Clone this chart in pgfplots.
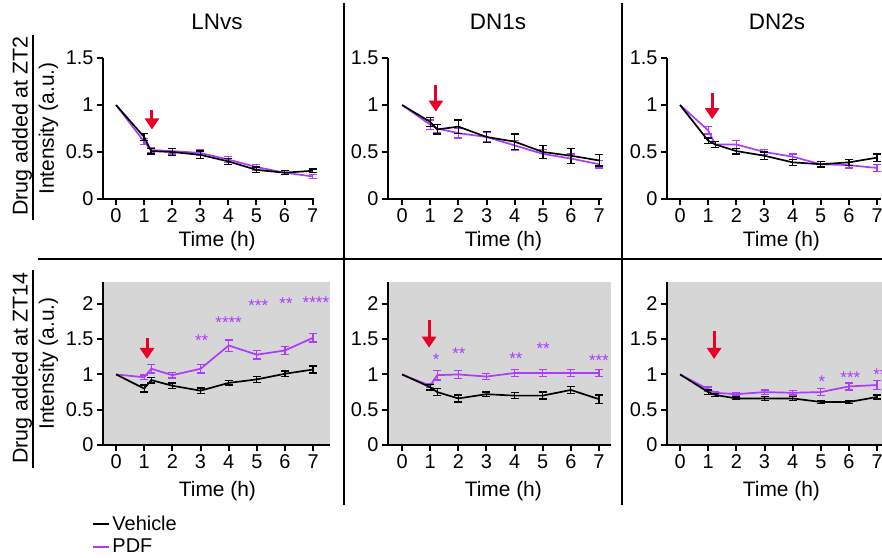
\documentclass[border=0pt]{standalone}
\usepackage{pgfplots}
\pgfplotsset{compat=1.18}
\usepackage{fontspec}
\setmainfont{Liberation Sans}
\usetikzlibrary{arrows.meta,calc}
\definecolor{pdfc}{RGB}{172,58,255}
\definecolor{arrc}{RGB}{232,0,40}
\definecolor{bgc}{RGB}{214,214,214}
\newcommand{\fs}[1]{\fontsize{#1}{#1}\selectfont}
\tikzset{
  arr/.style={arrc, line width=3bp, -{Triangle[width=14bp,length=11bp]}},
  star/.style={pdfc, font=\fs{17}},
}
\pgfplotsset{
  panel/.style={
    scale only axis, anchor=south west, axis lines=left,
    axis line style={-, line width=2.2bp},
    tick align=outside, major tick length=6bp,
    tick style={line width=2bp, black},
    xtick={0,1,...,7}, ymin=0, clip=false,
    tick label style={font=\fs{20}},
    /pgf/number format/assume math mode=true,
    xlabel={Time (h)},
    xlabel style={font=\fs{21}, at={(axis cs:3.6,0)}, anchor=center},
  },
  firstcol/.style={
    ylabel={Intensity (a.u.)},
    ylabel style={font=\fs{21}, at={($(axis description cs:0,0.5)+(-54.5bp,0)$)}, anchor=center},
  },
  toprow/.style={panel, ymax=1.5, ytick={0,0.5,1,1.5}, height=141bp,
    xlabel style={yshift=-42bp}},
  botrow/.style={panel, ymax=2.31, ytick={0,0.5,1,1.5,2}, height=163bp,
    axis background/.style={fill=bgc}, xlabel style={yshift=-46bp}},
  veh/.style={black, line width=1.7bp, mark=none,
    error bars/y dir=both, error bars/y explicit, error bars/error mark=|,
    error bars/error bar style={line width=1.3bp},
    error bars/error mark options={line width=1.3bp, mark size=4bp}},
  pdf/.style={pdfc, line width=1.7bp, mark=none,
    error bars/y dir=both, error bars/y explicit, error bars/error mark=|,
    error bars/error bar style={line width=1.3bp},
    error bars/error mark options={line width=1.3bp, mark size=4bp}},
}
\begin{document}
\begin{tikzpicture}
\useasboundingbox (0,0) rectangle (882bp,-558bp);

% ---------------- top row ----------------
\begin{axis}[toprow, firstcol, at={(103bp,-199bp)}, xmin=-0.464, xmax=7.05, width=211bp]
\addplot[pdf] coordinates {(0,1) +- (0,nan) (1,0.61) +- (0,0.03) (1.25,0.52) +- (0,0.03) (2,0.51) +- (0,0.03) (3,0.49) +- (0,0.03) (4,0.42) +- (0,0.03) (5,0.34) +- (0,0.03) (6,0.28) +- (0,0.02) (7,0.24) +- (0,0.02)};
\addplot[veh] coordinates {(0,1) +- (0,nan) (1,0.66) +- (0,0.04) (1.25,0.51) +- (0,0.03) (2,0.50) +- (0,0.04) (3,0.47) +- (0,0.04) (4,0.40) +- (0,0.03) (5,0.31) +- (0,0.03) (6,0.28) +- (0,0.02) (7,0.30) +- (0,0.02)};
\draw[arr] (axis cs:1.28,0.95) -- (axis cs:1.28,0.74);
\end{axis}

\begin{axis}[toprow, at={(388bp,-199bp)}, xmin=-0.5, xmax=7.1, width=214bp]
\addplot[pdf] coordinates {(0,1) +- (0,nan) (1,0.79) +- (0,0.05) (1.25,0.75) +- (0,0.04) (2,0.70) +- (0,0.05) (3,0.66) +- (0,0.05) (4,0.57) +- (0,0.05) (5,0.48) +- (0,0.05) (6,0.43) +- (0,0.05) (7,0.37) +- (0,0.04)};
\addplot[veh] coordinates {(0,1) +- (0,nan) (1,0.82) +- (0,0.05) (1.25,0.74) +- (0,0.05) (2,0.77) +- (0,0.07) (3,0.66) +- (0,0.06) (4,0.61) +- (0,0.08) (5,0.50) +- (0,0.07) (6,0.46) +- (0,0.08) (7,0.41) +- (0,0.06)};
\draw[arr] (axis cs:1.2,1.21) -- (axis cs:1.2,0.93);
\end{axis}

\begin{axis}[toprow, at={(667bp,-199bp)}, xmin=-0.464, xmax=7.14, width=214bp]
\addplot[pdf] coordinates {(0,1) +- (0,nan) (1,0.73) +- (0,0.04) (1.25,0.58) +- (0,0.03) (2,0.58) +- (0,0.04) (3,0.50) +- (0,0.03) (4,0.45) +- (0,0.03) (5,0.37) +- (0,0.03) (6,0.36) +- (0,0.03) (7,0.33) +- (0,0.04)};
\addplot[veh] coordinates {(0,1) +- (0,nan) (1,0.62) +- (0,0.03) (1.25,0.58) +- (0,0.03) (2,0.51) +- (0,0.03) (3,0.46) +- (0,0.04) (4,0.39) +- (0,0.03) (5,0.37) +- (0,0.03) (6,0.39) +- (0,0.03) (7,0.44) +- (0,0.04)};
\draw[arr] (axis cs:1.14,1.13) -- (axis cs:1.14,0.85);
\end{axis}

% ---------------- bottom row ----------------
\begin{axis}[botrow, firstcol, at={(103bp,-445bp)}, xmin=-0.464, xmax=7.6, width=227bp,
  legend style={at={(-0.048,-0.423)}, anchor=north west, draw=none, fill=none,
    font=\fs{20}, inner sep=0pt, row sep=3bp},
  legend cell align=left,
  legend image code/.code={\draw[#1] (0bp,0bp) -- (16bp,0bp);}]
\addlegendimage{black, line width=2.2bp}\addlegendentry{Vehicle}
\addlegendimage{pdfc, line width=2.2bp}\addlegendentry{PDF}
\addplot[pdf, forget plot] coordinates {(0,1) +- (0,nan) (1,0.96) +- (0,0.03) (1.25,1.08) +- (0,0.06) (2,0.99) +- (0,0.04) (3,1.08) +- (0,0.06) (4,1.41) +- (0,0.08) (5,1.28) +- (0,0.06) (6,1.34) +- (0,0.06) (7,1.52) +- (0,0.06)};
\addplot[veh, forget plot] coordinates {(0,1) +- (0,nan) (1,0.80) +- (0,0.05) (1.25,0.92) +- (0,0.04) (2,0.84) +- (0,0.04) (3,0.77) +- (0,0.04) (4,0.88) +- (0,0.03) (5,0.93) +- (0,0.04) (6,1.01) +- (0,0.04) (7,1.07) +- (0,0.05)};
\draw[arr] (axis cs:1.1,1.52) -- (axis cs:1.1,1.22);
\node[star] at (axis cs:3.04,1.48) {**};
\node[star] at (axis cs:4.0,1.73) {****};
\node[star] at (axis cs:5.05,1.98) {***};
\node[star] at (axis cs:6.04,2.01) {**};
\node[star] at (axis cs:7.1,2.02) {****};
\end{axis}

\begin{axis}[botrow, at={(388bp,-445bp)}, xmin=-0.5, xmax=7.43, width=223bp]
\addplot[pdf] coordinates {(0,1) +- (0,nan) (1,0.84) +- (0,0.03) (1.25,0.99) +- (0,0.07) (2,1.0) +- (0,0.06) (3,0.97) +- (0,0.04) (4,1.02) +- (0,0.05) (5,1.02) +- (0,0.05) (6,1.02) +- (0,0.05) (7,1.02) +- (0,0.05)};
\addplot[veh] coordinates {(0,1) +- (0,nan) (1,0.82) +- (0,0.04) (1.25,0.75) +- (0,0.05) (2,0.66) +- (0,0.05) (3,0.72) +- (0,0.03) (4,0.70) +- (0,0.04) (5,0.70) +- (0,0.05) (6,0.78) +- (0,0.05) (7,0.65) +- (0,0.06)};
\draw[arr] (axis cs:0.96,1.77) -- (axis cs:0.96,1.38);
\node[star] at (axis cs:1.21,1.21) {*};
\node[star] at (axis cs:2.02,1.29) {**};
\node[star] at (axis cs:4.05,1.22) {**};
\node[star] at (axis cs:5.02,1.37) {**};
\node[star] at (axis cs:7.0,1.20) {***};
\end{axis}

\begin{axis}[botrow, at={(667bp,-445bp)}, xmin=-0.464, xmax=7.6, width=227bp]
\addplot[pdf] coordinates {(0,1) +- (0,nan) (1,0.79) +- (0,0.03) (1.25,0.74) +- (0,0.02) (2,0.72) +- (0,0.02) (3,0.75) +- (0,0.03) (4,0.74) +- (0,0.03) (5,0.75) +- (0,0.05) (6,0.83) +- (0,0.05) (7,0.85) +- (0,0.06)};
\addplot[veh] coordinates {(0,1) +- (0,nan) (1,0.75) +- (0,0.03) (1.25,0.71) +- (0,0.02) (2,0.66) +- (0,0.02) (3,0.66) +- (0,0.03) (4,0.66) +- (0,0.03) (5,0.61) +- (0,0.02) (6,0.61) +- (0,0.02) (7,0.68) +- (0,0.03)};
\draw[arr] (axis cs:1.21,1.62) -- (axis cs:1.21,1.22);
\node[star] at (axis cs:5.04,0.90) {*};
\node[star] at (axis cs:6.05,0.95) {***};
\node[star] at (axis cs:7.1,1.00) {**};
\end{axis}

% ---------------- titles, row labels, separators ----------------
\node[font=\fs{22.5}] at (217bp,-21.5bp) {LNvs};
\node[font=\fs{22.5}] at (498bp,-21.5bp) {DN1s};
\node[font=\fs{22.5}] at (777bp,-21.5bp) {DN2s};
\node[rotate=90, font=\fs{21.5}] at (22bp,-126bp) {Drug added at ZT2};
\draw[line width=1.5bp] (33bp,-35bp) -- (33bp,-220bp);
\node[rotate=90, font=\fs{21.5}] at (22bp,-368bp) {Drug added at ZT14};
\draw[line width=1.5bp] (33bp,-270bp) -- (33bp,-468bp);
\draw[line width=2.6bp] (344bp,-3bp) -- (344bp,-505bp);
\draw[line width=2.6bp] (622bp,-3bp) -- (622bp,-505bp);
\draw[line width=2.6bp] (38bp,-259bp) -- (882bp,-259bp);
\end{tikzpicture}
\end{document}
